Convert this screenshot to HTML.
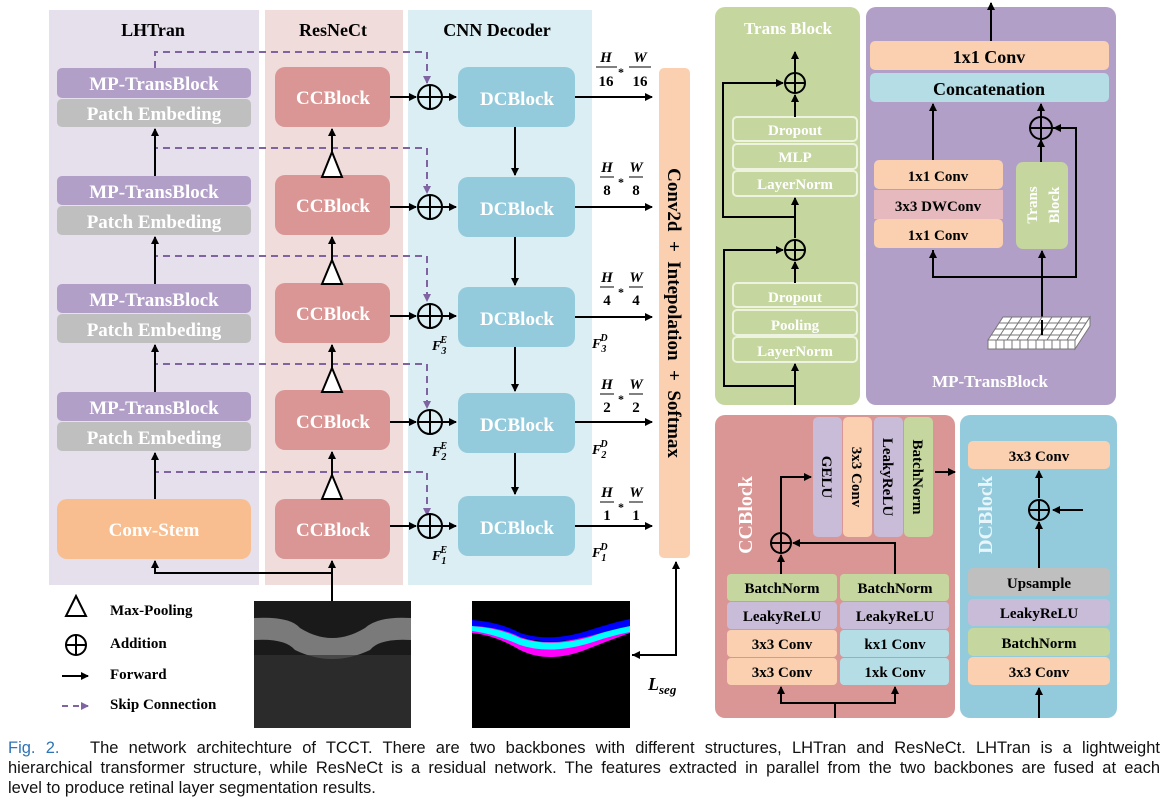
<!DOCTYPE html>
<html><head><meta charset="utf-8"><style>
html,body{margin:0;padding:0;background:#fff;}
svg{display:block;}
.t{font-family:"Liberation Serif",serif;font-weight:bold;}
.cap{font-family:"Liberation Sans",sans-serif;font-size:16.5px;color:#111;position:absolute;left:8px;top:738px;width:1152px;line-height:20px;}
.cap div.j{text-align:justify;text-align-last:justify;white-space:nowrap;}
</style></head><body>
<div style="position:relative;width:1166px;height:801px;overflow:hidden">
<svg width="1166" height="801" viewBox="0 0 1166 801" xmlns="http://www.w3.org/2000/svg">
<defs>
<marker id="a" markerWidth="8" markerHeight="8" refX="7" refY="4" orient="auto" markerUnits="userSpaceOnUse"><path d="M0,0 L8,4 L0,8 z" fill="#000"/></marker>
<marker id="p" markerWidth="8" markerHeight="8" refX="7" refY="4" orient="auto" markerUnits="userSpaceOnUse"><path d="M0,0 L8,4 L0,8 z" fill="#8064a2"/></marker>
</defs>
<rect x="49" y="10" width="210" height="575" fill="#e6dfec"/>
<rect x="265" y="10" width="138" height="575" fill="#f1dcdc"/>
<rect x="408" y="10" width="184" height="575" fill="#daeef4"/>
<g class="t" font-size="18" text-anchor="middle" fill="#000">
<text x="153" y="36">LHTran</text><text x="333" y="36">ResNeCt</text><text x="497" y="36">CNN Decoder</text>
</g>
<g fill="#b19fc8"><rect x="57" y="68" width="194" height="30" rx="5"/><rect x="57" y="176" width="194" height="29" rx="5"/><rect x="57" y="284" width="194" height="29" rx="5"/><rect x="57" y="392" width="194" height="29" rx="5"/></g>
<g fill="#bfbfbf"><rect x="57" y="99" width="194" height="28" rx="5"/><rect x="57" y="206" width="194" height="29" rx="5"/><rect x="57" y="314" width="194" height="29" rx="5"/><rect x="57" y="422" width="194" height="29" rx="5"/></g>
<rect x="57" y="499" width="194" height="60" rx="10" fill="#f9be8f"/>
<g class="t" font-size="19" fill="#fff" text-anchor="middle">
<text x="154" y="90">MP-TransBlock</text><text x="154" y="120">Patch Embeding</text>
<text x="154" y="198">MP-TransBlock</text><text x="154" y="228">Patch Embeding</text>
<text x="154" y="306">MP-TransBlock</text><text x="154" y="336">Patch Embeding</text>
<text x="154" y="414">MP-TransBlock</text><text x="154" y="444">Patch Embeding</text>
<text x="154" y="536">Conv-Stem</text>
</g>
<g fill="#d99694">
<rect x="275" y="67" width="115" height="60" rx="10"/><rect x="275" y="175" width="115" height="60" rx="10"/><rect x="275" y="283" width="115" height="60" rx="10"/><rect x="275" y="390" width="115" height="60" rx="10"/><rect x="275" y="499" width="115" height="60" rx="10"/>
</g>
<g fill="#94cbdc">
<rect x="458" y="67" width="117" height="60" rx="10"/><rect x="458" y="177" width="117" height="60" rx="10"/><rect x="458" y="287" width="117" height="60" rx="10"/><rect x="458" y="393" width="117" height="60" rx="10"/><rect x="458" y="496" width="117" height="60" rx="10"/>
</g>
<g class="t" font-size="19" fill="#fff" text-anchor="middle">
<text x="333" y="104">CCBlock</text><text x="333" y="212">CCBlock</text><text x="333" y="320">CCBlock</text><text x="333" y="428">CCBlock</text><text x="333" y="536">CCBlock</text>
<text x="517" y="105">DCBlock</text><text x="517" y="215">DCBlock</text><text x="517" y="325">DCBlock</text><text x="517" y="431">DCBlock</text><text x="517" y="534">DCBlock</text>
</g>
<g fill="none" stroke="#8064a2" stroke-width="2" stroke-dasharray="7,5">
<path d="M155 68 V52 H427 V83" marker-end="url(#p)"/>
<path d="M155 176 V148 H427 V193" marker-end="url(#p)"/>
<path d="M155 284 V256 H427 V301" marker-end="url(#p)"/>
<path d="M155 392 V364 H427 V408" marker-end="url(#p)"/>
<path d="M155 499 V472 H427 V515" marker-end="url(#p)"/>
</g>
<g stroke="#000" stroke-width="2" fill="none">
<line x1="155" y1="176" x2="155" y2="129" marker-end="url(#a)"/>
<line x1="155" y1="284" x2="155" y2="237" marker-end="url(#a)"/>
<line x1="155" y1="392" x2="155" y2="345" marker-end="url(#a)"/>
<line x1="155" y1="499" x2="155" y2="453" marker-end="url(#a)"/>
<line x1="332" y1="175" x2="332" y2="129" marker-end="url(#a)"/>
<line x1="332" y1="283" x2="332" y2="237" marker-end="url(#a)"/>
<line x1="332" y1="390" x2="332" y2="345" marker-end="url(#a)"/>
<line x1="332" y1="499" x2="332" y2="452" marker-end="url(#a)"/>
<path d="M332 601 V561" marker-end="url(#a)"/>
<path d="M332 573 H155 V561" marker-end="url(#a)"/>
<line x1="515" y1="127" x2="515" y2="175" marker-end="url(#a)"/>
<line x1="515" y1="237" x2="515" y2="285" marker-end="url(#a)"/>
<line x1="515" y1="347" x2="515" y2="391" marker-end="url(#a)"/>
<line x1="515" y1="453" x2="515" y2="494" marker-end="url(#a)"/>
<line x1="390" y1="97" x2="416" y2="97" marker-end="url(#a)"/><line x1="442" y1="97" x2="456" y2="97" marker-end="url(#a)"/>
<line x1="390" y1="207" x2="416" y2="207" marker-end="url(#a)"/><line x1="442" y1="207" x2="456" y2="207" marker-end="url(#a)"/>
<line x1="390" y1="316" x2="416" y2="316" marker-end="url(#a)"/><line x1="442" y1="316" x2="456" y2="316" marker-end="url(#a)"/>
<line x1="390" y1="422" x2="416" y2="422" marker-end="url(#a)"/><line x1="442" y1="422" x2="456" y2="422" marker-end="url(#a)"/>
<line x1="390" y1="526" x2="416" y2="526" marker-end="url(#a)"/><line x1="442" y1="526" x2="456" y2="526" marker-end="url(#a)"/>
<line x1="575" y1="97" x2="652" y2="97" marker-end="url(#a)"/>
<line x1="575" y1="207" x2="652" y2="207" marker-end="url(#a)"/>
<line x1="575" y1="317" x2="652" y2="317" marker-end="url(#a)"/>
<line x1="575" y1="422" x2="652" y2="422" marker-end="url(#a)"/>
<line x1="575" y1="526" x2="652" y2="526" marker-end="url(#a)"/>
</g>
<g stroke="#000" stroke-width="2" fill="none">
<g id="pl"><circle cx="430" cy="97" r="12"/><line x1="418" y1="97" x2="442" y2="97"/><line x1="430" y1="85" x2="430" y2="109"/></g>
<use href="#pl" y="110"/><use href="#pl" y="219"/><use href="#pl" y="325"/><use href="#pl" y="429"/>
</g>
<g fill="#fff" stroke="#000" stroke-width="2">
<path d="M332 152 L342 177 L322 177 z"/><path d="M332 260 L342 284 L322 284 z"/><path d="M332 368 L342 392 L322 392 z"/><path d="M332 475 L342 499 L322 499 z"/>
</g>
<g font-family="Liberation Serif,serif" font-weight="bold" font-size="15" text-anchor="middle">
<g><text x="606" y="62" font-style="italic">H</text><text x="606" y="86">16</text><line x1="596" y1="67" x2="617" y2="67" stroke="#000"/><text x="621" y="76" font-size="12">*</text><text x="640" y="62" font-style="italic">W</text><text x="640" y="86">16</text><line x1="629" y1="67" x2="651" y2="67" stroke="#000"/></g>
<g><text x="607" y="172" font-style="italic">H</text><text x="607" y="195">8</text><line x1="600" y1="177" x2="614" y2="177" stroke="#000"/><text x="621" y="186" font-size="12">*</text><text x="636" y="172" font-style="italic">W</text><text x="636" y="195">8</text><line x1="629" y1="177" x2="643" y2="177" stroke="#000"/></g>
<g><text x="607" y="282" font-style="italic">H</text><text x="607" y="305">4</text><line x1="600" y1="287" x2="614" y2="287" stroke="#000"/><text x="621" y="296" font-size="12">*</text><text x="636" y="282" font-style="italic">W</text><text x="636" y="305">4</text><line x1="629" y1="287" x2="643" y2="287" stroke="#000"/></g>
<g><text x="607" y="389" font-style="italic">H</text><text x="607" y="412">2</text><line x1="600" y1="394" x2="614" y2="394" stroke="#000"/><text x="621" y="403" font-size="12">*</text><text x="636" y="389" font-style="italic">W</text><text x="636" y="412">2</text><line x1="629" y1="394" x2="643" y2="394" stroke="#000"/></g>
<g><text x="607" y="497" font-style="italic">H</text><text x="607" y="520">1</text><line x1="600" y1="502" x2="614" y2="502" stroke="#000"/><text x="621" y="511" font-size="12">*</text><text x="636" y="497" font-style="italic">W</text><text x="636" y="520">1</text><line x1="629" y1="502" x2="643" y2="502" stroke="#000"/></g>
</g>
<g font-family="Liberation Serif,serif" font-weight="bold" font-style="italic" font-size="14">
<text x="432" y="350">F<tspan font-size="10" dy="4">3</tspan><tspan font-size="10" dx="-6" dy="-11">E</tspan></text>
<text x="432" y="456">F<tspan font-size="10" dy="4">2</tspan><tspan font-size="10" dx="-6" dy="-11">E</tspan></text>
<text x="432" y="560">F<tspan font-size="10" dy="4">1</tspan><tspan font-size="10" dx="-6" dy="-11">E</tspan></text>
<text x="592" y="348">F<tspan font-size="10" dy="4">3</tspan><tspan font-size="10" dx="-6" dy="-11">D</tspan></text>
<text x="592" y="454">F<tspan font-size="10" dy="4">2</tspan><tspan font-size="10" dx="-6" dy="-11">D</tspan></text>
<text x="592" y="557">F<tspan font-size="10" dy="4">1</tspan><tspan font-size="10" dx="-6" dy="-11">D</tspan></text>
<text x="648" y="690" font-size="18">L<tspan font-size="13" dy="4">seg</tspan></text>
</g>
<rect x="659" y="68" width="31" height="490" rx="5" fill="#fad0b0"/>
<text class="t" font-size="19" transform="translate(668,313) rotate(90)" text-anchor="middle" xml:space="preserve">Conv2d  +  Intepolation  +  Softmax</text>
<path d="M632 655 H676 V562" stroke="#000" stroke-width="2" fill="none" marker-end="url(#a)"/>
<path d="M640 651 L632 655 L640 659 z" fill="#000"/>
<rect x="254" y="601" width="157" height="127" fill="#1a1a1a"/>
<path d="M254 618 Q290 616 300 628 Q332 648 365 628 Q378 616 411 618 V640 Q380 638 370 650 Q332 668 295 650 Q285 638 254 640 z" fill="#7a7a7a"/>
<rect x="254" y="655" width="157" height="73" fill="#333" opacity="0.7"/>
<rect x="472" y="601" width="158" height="127" fill="#000"/>
<path d="M472 623 Q500 625 520 637 Q551 648 590 635 Q615 625 630 621 V633 Q610 640 590 648 Q550 665 520 650 Q495 635 472 633 z" fill="#ff00ff"/>
<path d="M472 626 Q500 628 520 638 Q551 648 590 637 Q615 628 630 625 V632 Q610 636 590 643 Q550 655 520 645 Q495 634 472 631 z" fill="#00ffff"/>
<path d="M472 620 Q500 622 520 633 Q551 643 590 630 Q615 622 630 619 V626 Q615 629 590 636 Q551 646 520 637 Q500 627 472 626 z" fill="#0000ff"/>
<path d="M76 596 L86 616 L66 616 z" fill="#fff" stroke="#000" stroke-width="2"/>
<circle cx="76" cy="645" r="10" fill="none" stroke="#000" stroke-width="2"/><line x1="66" y1="645" x2="86" y2="645" stroke="#000" stroke-width="2"/><line x1="76" y1="635" x2="76" y2="655" stroke="#000" stroke-width="2"/>
<line x1="62" y1="676" x2="88" y2="676" stroke="#000" stroke-width="2" marker-end="url(#a)"/>
<line x1="62" y1="706" x2="88" y2="706" stroke="#8064a2" stroke-width="2" stroke-dasharray="6,5" marker-end="url(#p)"/>
<g class="t" font-size="15"><text x="110" y="615">Max-Pooling</text><text x="110" y="648">Addition</text><text x="110" y="679">Forward</text><text x="110" y="709">Skip Connection</text></g>

<rect x="715" y="7" width="145" height="398" rx="10" fill="#c5d69f"/>
<text class="t" x="788" y="34" font-size="17" fill="#fff" text-anchor="middle">Trans Block</text>
<g fill="#c5d69f" stroke="#eef3e0" stroke-width="2">
<rect x="733" y="117" width="124" height="24" rx="4"/><rect x="733" y="144" width="124" height="25" rx="4"/><rect x="733" y="171" width="124" height="25" rx="4"/>
<rect x="733" y="283" width="124" height="24" rx="4"/><rect x="733" y="310" width="124" height="25" rx="4"/><rect x="733" y="337" width="124" height="25" rx="4"/>
</g>
<g class="t" font-size="15" fill="#fff" text-anchor="middle">
<text x="795" y="135">Dropout</text><text x="795" y="162">MLP</text><text x="795" y="189">LayerNorm</text>
<text x="795" y="302">Dropout</text><text x="795" y="330">Pooling</text><text x="795" y="356">LayerNorm</text>
</g>
<g stroke="#000" stroke-width="2" fill="none">
<line x1="795" y1="405" x2="795" y2="364" marker-end="url(#a)"/>
<path d="M795 386 H724 V250 H783" marker-end="url(#a)"/>
<line x1="795" y1="283" x2="795" y2="262" marker-end="url(#a)"/>
<line x1="795" y1="238" x2="795" y2="198" marker-end="url(#a)"/>
<path d="M795 217 H723 V83 H783" marker-end="url(#a)"/>
<line x1="795" y1="117" x2="795" y2="95" marker-end="url(#a)"/>
<line x1="795" y1="73" x2="795" y2="52" marker-end="url(#a)"/>
<circle cx="795" cy="83" r="10"/><line x1="785" y1="83" x2="805" y2="83"/><line x1="795" y1="73" x2="795" y2="93"/>
<circle cx="795" cy="250" r="10"/><line x1="785" y1="250" x2="805" y2="250"/><line x1="795" y1="240" x2="795" y2="260"/>
</g>

<rect x="866" y="7" width="250" height="398" rx="10" fill="#b19fc8"/>
<rect x="870" y="41" width="239" height="29" rx="5" fill="#fad0b0"/>
<rect x="870" y="73" width="239" height="29" rx="5" fill="#b5dde6"/>
<rect x="874" y="160" width="129" height="29" rx="5" fill="#fad0b0"/>
<rect x="874" y="190" width="129" height="29" rx="0" fill="#e5b9bd"/>
<rect x="874" y="219" width="129" height="29" rx="5" fill="#fad0b0"/>
<rect x="1016" y="162" width="52" height="87" rx="7" fill="#c5d69f"/>
<g class="t" text-anchor="middle">
<text x="989" y="63" font-size="18">1x1 Conv</text>
<text x="989" y="95" font-size="18">Concatenation</text>
<text x="938" y="181" font-size="15">1x1 Conv</text>
<text x="938" y="211" font-size="15">3x3 DWConv</text>
<text x="938" y="240" font-size="15">1x1 Conv</text>
<text x="990" y="387" font-size="17" fill="#fff">MP-TransBlock</text>
<text transform="translate(1042,205) rotate(-90)" font-size="15" fill="#fff"><tspan x="0" dy="-5">Trans</tspan><tspan x="0" dy="22">Block</tspan></text>
</g>
<g stroke="#000" stroke-width="2" fill="none">
<line x1="991" y1="41" x2="991" y2="3" marker-end="url(#a)"/>
<line x1="933" y1="160" x2="933" y2="104" marker-end="url(#a)"/>
<line x1="1041" y1="118" x2="1041" y2="104" marker-end="url(#a)"/>
<line x1="1041" y1="162" x2="1041" y2="140" marker-end="url(#a)"/>
<line x1="1042" y1="325" x2="1042" y2="251" marker-end="url(#a)"/>
<path d="M933 250 V277 H1076 V128 H1053" />
<circle cx="1041" cy="128" r="11"/><line x1="1030" y1="128" x2="1052" y2="128"/><line x1="1041" y1="117" x2="1041" y2="139"/>
</g>
<path d="M933 250 L929 258 L937 258 z" fill="#000"/>
<path d="M1053 128 L1061 124 L1061 132 z" fill="#000"/>
<g stroke="#777" stroke-width="1">
<path d="M988 340 L1003 317 H1090 L1075 340 z" fill="#fff"/>
<rect x="988" y="340" width="87" height="9" fill="#fff"/>
<path d="M1075 340 L1090 317 V326 L1075 349 z" fill="#fff"/>
<path d="M996 340V349M1004 340V349M1012 340V349M1020 340V349M1028 340V349M1036 340V349M1044 340V349M1052 340V349M1060 340V349M1068 340V349"/>
<path d="M991 335H1078M995 329H1082M999 323H1086M1012 317 L997 340M1022 317 L1007 340M1032 317 L1017 340M1042 317 L1027 340M1052 317 L1037 340M1062 317 L1047 340M1072 317 L1057 340M1082 317 L1067 340"/>
</g>
<line x1="1042" y1="335" x2="1042" y2="320" stroke="#000" stroke-width="2"/>

<rect x="715" y="415" width="240" height="303" rx="10" fill="#d99694"/>
<text class="t" transform="translate(752,515) rotate(-90)" font-size="20" fill="#fff" text-anchor="middle">CCBlock</text>
<rect x="813" y="417" width="29" height="120" rx="5" fill="#c9bcd9"/>
<rect x="843" y="417" width="29" height="120" rx="5" fill="#fad0b0"/>
<rect x="874" y="417" width="29" height="120" rx="5" fill="#c9bcd9"/>
<rect x="904" y="417" width="29" height="120" rx="5" fill="#c5d69f"/>
<g class="t" font-size="15">
<text transform="translate(822,477) rotate(90)" text-anchor="middle">GELU</text>
<text transform="translate(852,477) rotate(90)" text-anchor="middle">3x3 Conv</text>
<text transform="translate(883,477) rotate(90)" text-anchor="middle">LeakyReLU</text>
<text transform="translate(913,477) rotate(90)" text-anchor="middle">BatchNorm</text>
</g>
<g fill="#c5d69f"><rect x="727" y="574" width="110" height="27" rx="4"/><rect x="840" y="574" width="109" height="27" rx="4"/></g>
<g fill="#c9bcd9"><rect x="727" y="602" width="110" height="27" rx="4"/><rect x="840" y="602" width="109" height="27" rx="4"/></g>
<g fill="#fad0b0"><rect x="727" y="630" width="110" height="27" rx="4"/><rect x="727" y="658" width="110" height="27" rx="4"/></g>
<g fill="#b5dde6"><rect x="840" y="630" width="109" height="27" rx="4"/><rect x="840" y="658" width="109" height="27" rx="4"/></g>
<g class="t" font-size="15" text-anchor="middle">
<text x="782" y="593">BatchNorm</text><text x="895" y="593">BatchNorm</text>
<text x="782" y="621">LeakyReLU</text><text x="895" y="621">LeakyReLU</text>
<text x="782" y="649">3x3 Conv</text><text x="895" y="649">kx1 Conv</text>
<text x="782" y="677">3x3 Conv</text><text x="895" y="677">1xk Conv</text>
</g>
<g stroke="#000" stroke-width="2" fill="none">
<path d="M835 718 V703 H781 V687" marker-end="url(#a)"/>
<path d="M835 703 H895 V687" marker-end="url(#a)"/>
<line x1="781" y1="574" x2="781" y2="555" marker-end="url(#a)"/>
<path d="M895 574 V543 H793" marker-end="url(#a)"/>
<path d="M781 532 V477 H811" marker-end="url(#a)"/>
<line x1="935" y1="472" x2="955" y2="472" marker-end="url(#a)"/>
<circle cx="781" cy="543" r="10"/><line x1="771" y1="543" x2="791" y2="543"/><line x1="781" y1="533" x2="781" y2="553"/>
</g>

<rect x="960" y="415" width="157" height="303" rx="10" fill="#94cbdc"/>
<text class="t" transform="translate(992,515) rotate(-90)" font-size="20" fill="#e8f5fa" text-anchor="middle">DCBlock</text>
<rect x="968" y="441" width="142" height="28" rx="5" fill="#fad0b0"/>
<rect x="968" y="568" width="142" height="28" rx="5" fill="#bfbfbf"/>
<rect x="968" y="599" width="142" height="27" rx="5" fill="#c9bcd9"/>
<rect x="968" y="628" width="142" height="28" rx="5" fill="#c5d69f"/>
<rect x="968" y="657" width="142" height="28" rx="5" fill="#fad0b0"/>
<g class="t" font-size="15" text-anchor="middle">
<text x="1039" y="461">3x3 Conv</text><text x="1039" y="588">Upsample</text><text x="1039" y="618">LeakyReLU</text><text x="1039" y="648">BatchNorm</text><text x="1039" y="677">3x3 Conv</text>
</g>
<g stroke="#000" stroke-width="2" fill="none">
<line x1="1039" y1="718" x2="1039" y2="688" marker-end="url(#a)"/>
<line x1="1039" y1="568" x2="1039" y2="522" marker-end="url(#a)"/>
<line x1="1039" y1="498" x2="1039" y2="471" marker-end="url(#a)"/>
<line x1="1083" y1="510" x2="1053" y2="510" marker-end="url(#a)"/>
<circle cx="1039" cy="510" r="10"/><line x1="1029" y1="510" x2="1049" y2="510"/><line x1="1039" y1="500" x2="1039" y2="520"/>
</g>
</svg>
<div class="cap">
<div class="j"><span style="color:#2e74b5">Fig. 2.</span>&nbsp;&nbsp;&nbsp;The network architechture of TCCT. There are two backbones with different structures, LHTran and ResNeCt. LHTran is a lightweight</div>
<div class="j">hierarchical transformer structure, while ResNeCt is a residual network. The features extracted in parallel from the two backbones are fused at each</div>
<div>level to produce retinal layer segmentation results.</div>
</div>
</div>
</body></html>
